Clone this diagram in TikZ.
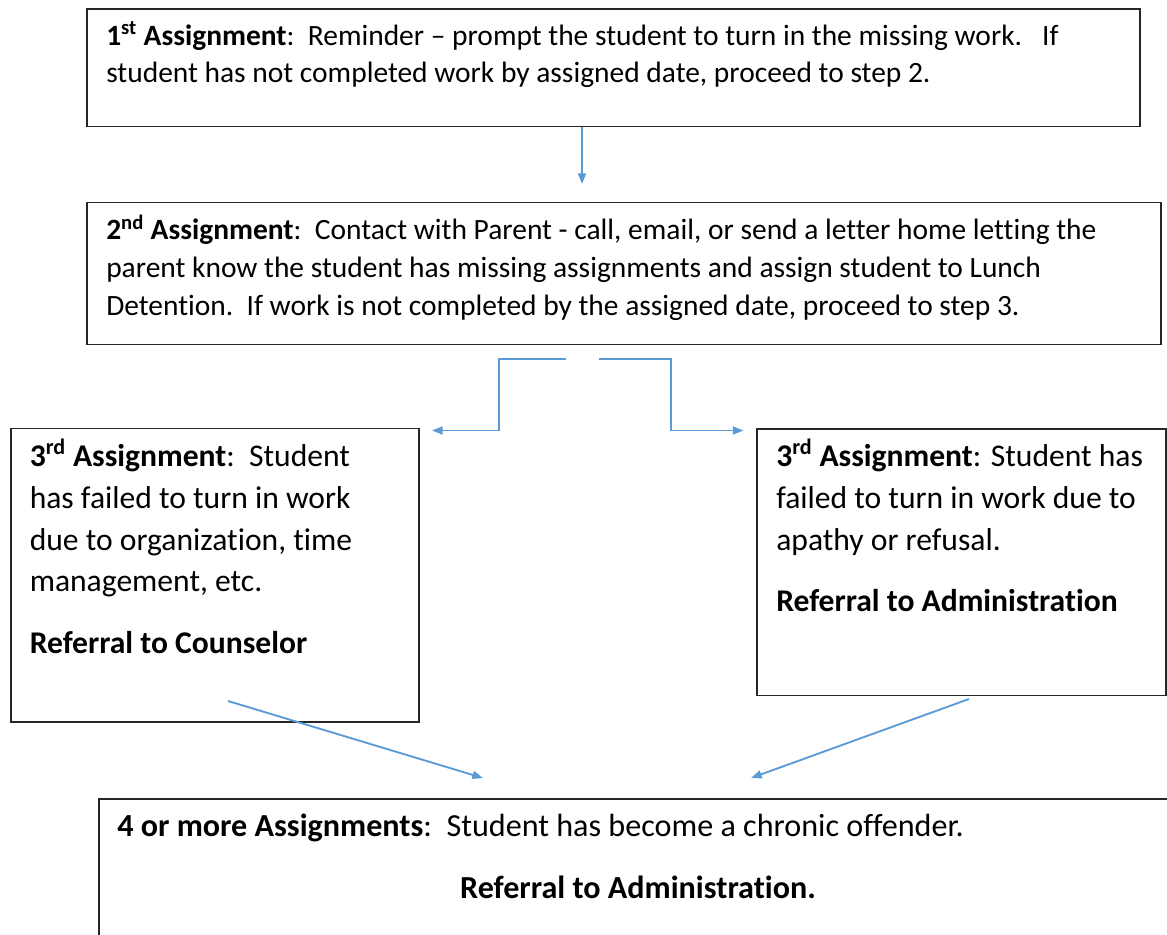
\documentclass[tikz,border=0pt]{standalone}
\usepackage{fontspec}
\setmainfont{Carlito}[Ligatures={NoCommon}]
\usetikzlibrary{arrows.meta,fit}
\definecolor{arrblue}{HTML}{5B9BD5}
\newcommand\fonta{\fontsize{22.1}{28.1}\selectfont}
\newcommand\fontb{\fontsize{23.7}{31.3}\selectfont}
\newcommand\fontc{\fontsize{24.1}{31.3}\selectfont}
\tikzset{
  box/.style={draw=black!85, line width=1.4pt, inner sep=0pt, fill=none},
  lineA/.style={anchor=base west, inner sep=0pt, font=\fonta},
  lineB/.style={anchor=base west, inner sep=0pt, font=\fontb},
  lineC/.style={anchor=base west, inner sep=0pt, font=\fontc},
  arr/.style={draw=arrblue, line width=1.4pt, -{Triangle[length=8pt,width=6pt]}}
}
\begin{document}
\begin{tikzpicture}[x=0.75pt, y=-0.75pt]
\useasboundingbox (0,0) rectangle (1167,935);
\clip (0,0) rectangle (1167,935);
% boxes
\node[box, fit={(87,9) (1140,126.5)}] (b1) {};
\node[box, fit={(87,202.5) (1161,344.5)}] (b2) {};
\node[box, fit={(11,428.5) (419,722)}] (b3) {};
\node[box, fit={(757,429) (1166,695.5)}] (b4) {};
\node[box, fit={(99,799) (1180,950)}] (b5) {};
% texts
\node[lineA] (t1a) at (106,45) {\textbf{1\textsuperscript{st} Assignment}:\ \ Reminder – prompt the student to turn in the missing work.\ \ \ If};
\node[lineA] (t1b) at (106,82) {student has not completed work by assigned date, proceed to step 2.};
\node[lineA] (t2a) at (106,239.5) {\textbf{2\textsuperscript{nd} Assignment}:\ \ Contact with Parent - call, email, or send a letter home letting the};
\node[lineA] (t2b) at (106,277) {parent know the student has missing assignments and assign student to Lunch};
\node[lineA] (t2c) at (106,315) {Detention.\ \ If work is not completed by the assigned date, proceed to step 3.};
\node[lineB] (t3a) at (29.5,466.7) {\textbf{3\textsuperscript{rd} Assignment}:\ \ Student};
\node[lineB] (t3b) at (29.5,508.3) {has failed to turn in work};
\node[lineB] (t3c) at (29.5,550) {due to organization, time};
\node[lineB] (t3d) at (29.5,591.7) {management, etc.};
\node[lineB] (t3e) at (29.5,653) {\textbf{Referral to Counselor}};
\node[lineB] (t4a) at (776,466.7) {\textbf{3\textsuperscript{rd} Assignment}: Student has};
\node[lineB] (t4b) at (776,508) {failed to turn in work due to};
\node[lineB] (t4c) at (776,550) {apathy or refusal.};
\node[lineB] (t4d) at (776,611.7) {\textbf{Referral to Administration}};
\node[lineC] (t5a) at (117,836.7) {\textbf{4 or more Assignments}:\ \ Student has become a chronic offender.};
\node[anchor=base, inner sep=0pt, font=\fontc] (t5b) at (638,898.3) {\textbf{Referral to Administration.}};
% connector end points
\coordinate (a1e) at (582,184);
\coordinate (l0) at (566,359);
\coordinate (l1) at (432,430.5);
\coordinate (r0) at (599,359);
\coordinate (r1) at (743.5,430.5);
\coordinate (d1s) at (228,701);
\coordinate (d1e) at (483,778);
\coordinate (d2s) at (969,699);
\coordinate (d2e) at (751,778);
% connectors
\draw[arr] (a1e |- b1.south) -- (a1e);
\draw[arr] (l0) -- ++(-67,0) |- (l1);
\draw[arr] (r0) -- ++(72,0) |- (r1);
\draw[arr] (d1s) -- (d1e);
\draw[arr] (d2s) -- (d2e);
\end{tikzpicture}
\end{document}
